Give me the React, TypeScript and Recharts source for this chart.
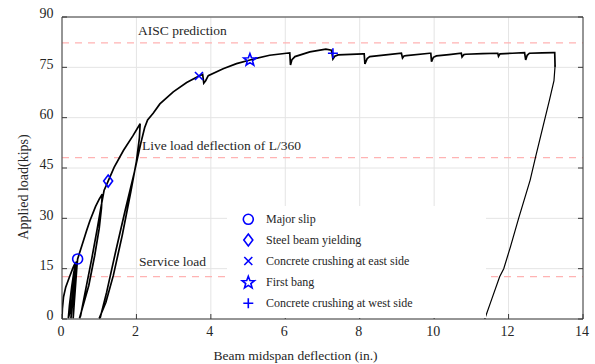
import React from 'react';
import {
  ComposedChart,
  Line,
  Scatter,
  XAxis,
  YAxis,
  CartesianGrid,
  ReferenceLine,
  Legend,
} from 'recharts';

// ---------- data ----------
const xTicks = [0, 2, 4, 6, 8, 10, 12, 14];
const yTicks = [0, 15, 30, 45, 60, 75, 90];

// loading path: service-load cycles, two unload/reload cycles, then envelope to end of test
const loadPath: [number, number][] = [
  [0, 0], [0.01, 3], [0.04, 6.5], [0.1, 9.5], [0.2, 12.5], [0.3, 15.4], [0.36, 16.8],
  [0.33, 12], [0.27, 6], [0.21, 2], [0.17, 0.2],
  [0.2, 4], [0.26, 9.5], [0.32, 14], [0.38, 17],
  [0.34, 11], [0.29, 5], [0.24, 0.2],
  [0.27, 4.5], [0.32, 10.5], [0.36, 14.5], [0.39, 17.1],
  [0.37, 11], [0.33, 5], [0.3, 0.2],
  [0.33, 5], [0.37, 11], [0.4, 15.5], [0.42, 17.9],
  [0.55, 22.4], [0.66, 26.3], [0.75, 29.3], [0.9, 33.5], [1.0, 35.7], [1.08, 37.2],
  [1.06, 33], [1.0, 27], [0.88, 19], [0.72, 10], [0.47, 0.2],
  [0.5, 1], [0.64, 9], [0.8, 18], [0.94, 26.5], [1.05, 33.5], [1.13, 38.3], [1.24, 41.1],
  [1.4, 45.2], [1.65, 50.2], [1.9, 54.5], [2.1, 58.2],
  [2.08, 54], [2.0, 47], [1.85, 38], [1.62, 25], [1.38, 13], [1.18, 5], [1.0, 0.2],
  [1.03, 0.5], [1.2, 8], [1.45, 20.5], [1.7, 32.5], [1.95, 44], [2.12, 52.5], [2.22, 57], [2.3, 59.3],
  [2.45, 61.3], [2.63, 64.1], [2.99, 67.7], [3.35, 70.5], [3.68, 72.4], [3.78, 72.9],
  [3.81, 70.3], [3.86, 71.0], [3.93, 72.5], [4.33, 74.6], [4.69, 76.1], [5.05, 77.2],
  [5.58, 78.6], [6.03, 79.2], [6.12, 79.3], [6.14, 75.7], [6.18, 77.3], [6.26, 78.2],
  [6.66, 79.6], [7.09, 80.4], [7.24, 80.1], [7.28, 77.5], [7.33, 78.3], [7.42, 78.7],
  [8.09, 79.0], [8.12, 79.0], [8.14, 76.0], [8.2, 77.6], [8.27, 78.2], [8.7, 78.7],
  [9.12, 79.2], [9.15, 77.8], [9.19, 78.4], [9.25, 78.5], [9.88, 79.2], [9.91, 79.2],
  [9.93, 76.7], [9.98, 78.0], [10.06, 78.4], [10.4, 78.8], [10.73, 79.2], [10.75, 78.1],
  [10.8, 78.8], [10.85, 78.9], [11.3, 79.1], [11.71, 79.2], [11.73, 78.3], [11.77, 79.0],
  [12.1, 79.2], [12.43, 79.4], [12.46, 77.2], [12.5, 78.6], [12.56, 79.2], [12.9, 79.3],
  [13.21, 79.4], [13.24, 79.4], [13.25, 75.2],
];

// final unloading branch
const unloadPath: [number, number][] = [
  [13.25, 75.5], [13.22, 71], [13.1, 65.3], [12.88, 55.3], [12.72, 48], [12.58, 41.4],
  [12.27, 30], [12.05, 21.5], [11.87, 15], [11.76, 12.6], [11.55, 6], [11.36, 0],
];

const eventNames = [
  'Major slip',
  'Steel beam yielding',
  'Concrete crushing at east side',
  'First bang',
  'Concrete crushing at west side',
];
const eventKinds = ['circle', 'diamond', 'cross', 'star', 'plus'];
const eventX = [0.42, 1.24, 3.68, 5.05, 7.28];
const eventY = [17.9, 41.1, 72.4, 77.2, 79.2];

const limitLabels = ['AISC prediction', 'Live load deflection of L/360', 'Service load'];
const limitValues = [82.3, 48.1, 12.6];

// ---------- helpers ----------
const toPoints = (arr: [number, number][]) => arr.map(([x, y]) => ({ x, y }));
const loadData = toPoints(loadPath);
const unloadData = toPoints(unloadPath);

const FONT = "'Liberation Serif', 'Times New Roman', serif";
const TEXT = '#262626';
const FRAME = '#3a3a3a';
const BLUE = '#0000ff';

function starPath(cx: number, cy: number, R: number, r: number) {
  let d = '';
  for (let i = 0; i < 10; i++) {
    const rad = i % 2 === 0 ? R : r;
    const a = -Math.PI / 2 + (i * Math.PI) / 5;
    d += (i === 0 ? 'M' : 'L') + (cx + rad * Math.cos(a)).toFixed(2) + ',' + (cy + rad * Math.sin(a)).toFixed(2);
  }
  return d + 'Z';
}

function Marker({ kind, cx, cy }: { kind: string; cx: number; cy: number }) {
  const common = { fill: 'none', stroke: BLUE, strokeWidth: 1.6 };
  switch (kind) {
    case 'circle':
      return <circle cx={cx} cy={cy} r={5} {...common} />;
    case 'diamond':
      return <path d={`M${cx},${cy - 6}L${cx + 4.5},${cy}L${cx},${cy + 6}L${cx - 4.5},${cy}Z`} {...common} />;
    case 'cross':
      return <path d={`M${cx - 4},${cy - 4}L${cx + 4},${cy + 4}M${cx - 4},${cy + 4}L${cx + 4},${cy - 4}`} {...common} />;
    case 'star':
      return <path d={starPath(cx, cy, 6.5, 2.7)} {...common} />;
    default:
      return <path d={`M${cx - 5},${cy}L${cx + 5},${cy}M${cx},${cy - 5}L${cx},${cy + 5}`} {...common} />;
  }
}

const BottomTick = (props: any) => {
  const { x, y, payload } = props;
  return (
    <g>
      <line x1={x} y1={y} x2={x} y2={y - 5} stroke={FRAME} strokeWidth={1} />
      <text x={x - 1} y={y + 17} textAnchor="middle" fontFamily={FONT} fontSize={14} fill={TEXT}>
        {payload.value}
      </text>
    </g>
  );
};

const LeftTick = (props: any) => {
  const { x, y, payload } = props;
  return (
    <g>
      <line x1={x} y1={y} x2={x + 5} y2={y} stroke={FRAME} strokeWidth={1} />
      <text x={x - 8.5} y={y + 1.3} textAnchor="end" fontFamily={FONT} fontSize={14} fill={TEXT}>
        {payload.value}
      </text>
    </g>
  );
};

const TopTick = (props: any) => {
  const { x, y } = props;
  return <line x1={x} y1={y} x2={x} y2={y + 5} stroke={FRAME} strokeWidth={1} />;
};

const RightTick = (props: any) => {
  const { x, y } = props;
  return <line x1={x} y1={y} x2={x - 5} y2={y} stroke={FRAME} strokeWidth={1} />;
};

const limitOffsets = [
  { dx: 76, dy: 7.7 },
  { dx: 80, dy: 7.7 },
  { dx: 77, dy: 10.5 },
];

const makeLimitLabel = (i: number) => (props: any) => {
  const vb = props.viewBox || {};
  return (
    <text
      x={(vb.x ?? 0) + limitOffsets[i].dx}
      y={(vb.y ?? 0) - limitOffsets[i].dy}
      fontFamily={FONT}
      fontSize={13.5}
      fill={TEXT}
    >
      {limitLabels[i]}
    </text>
  );
};

const XLabel = (props: any) => {
  const vb = props.viewBox || {};
  return (
    <text
      x={vb.x + vb.width / 2 - 27}
      y={vb.y + 41}
      textAnchor="middle"
      fontFamily={FONT}
      fontSize={13.5}
      fill={TEXT}
    >
      Beam midspan deflection (in.)
    </text>
  );
};

const YLabel = (props: any) => {
  const vb = props.viewBox || {};
  const cx = vb.x + 27.5;
  const cy = vb.y + vb.height / 2 + 19;
  return (
    <text
      x={cx}
      y={cy}
      transform={`rotate(-90, ${cx}, ${cy})`}
      textAnchor="middle"
      fontFamily={FONT}
      fontSize={14}
      fill={TEXT}
    >
      Applied load(kips)
    </text>
  );
};

const LegendBox = () => {
  const rowY = [13.3, 34, 55, 76.7, 97.3];
  return (
    <svg width={259} height={112} style={{ display: 'block', background: '#ffffff' }}>
      <rect x={0} y={0} width={259} height={112} fill="#ffffff" />
      {eventNames.map((name, i) => (
        <g key={name}>
          <Marker kind={eventKinds[i]} cx={21.3} cy={rowY[i]} />
          <text x={39} y={rowY[i] + 3.6} fontFamily={FONT} fontSize={12} fill={TEXT}>
            {name}
          </text>
        </g>
      ))}
    </svg>
  );
};

export default function App() {
  return (
    <div style={{ position: 'absolute', left: 0, top: 0, width: 595, height: 364, background: '#fff' }}>
      <ComposedChart width={595} height={364} margin={{ top: 0, right: 0, bottom: 0, left: 0 }}>
        <CartesianGrid stroke="#e4e4e4" strokeWidth={1} />
        <XAxis
          dataKey="x"
          type="number"
          domain={[0, 14]}
          ticks={xTicks}
          height={45}
          tickSize={0}
          tickMargin={0}
          interval={0}
          stroke={FRAME}
          tick={BottomTick}
          label={XLabel}
          allowDataOverflow
        />
        <XAxis
          xAxisId="top"
          orientation="top"
          type="number"
          domain={[0, 14]}
          ticks={xTicks}
          height={17}
          tickSize={0}
          tickMargin={0}
          interval={0}
          stroke={FRAME}
          tick={TopTick}
          allowDataOverflow
        />
        <YAxis
          dataKey="y"
          type="number"
          domain={[0, 90]}
          ticks={yTicks}
          width={62}
          tickSize={0}
          tickMargin={0}
          interval={0}
          stroke={FRAME}
          tick={LeftTick}
          label={YLabel}
          allowDataOverflow
        />
        <YAxis
          yAxisId="right"
          orientation="right"
          type="number"
          domain={[0, 90]}
          ticks={yTicks}
          width={12}
          tickSize={0}
          tickMargin={0}
          interval={0}
          stroke={FRAME}
          tick={RightTick}
          allowDataOverflow
        />
        {limitValues.map((v, i) => (
          <ReferenceLine
            key={limitLabels[i]}
            y={v}
            stroke="#ffb3b3"
            strokeWidth={1.3}
            strokeDasharray="7 6"
            label={makeLimitLabel(i)}
          />
        ))}
        <Line
          data={loadData}
          dataKey="y"
          type="linear"
          stroke="#000000"
          strokeWidth={1.7}
          dot={false}
          isAnimationActive={false}
        />
        <Line
          data={unloadData}
          dataKey="y"
          type="linear"
          stroke="#000000"
          strokeWidth={1.2}
          dot={false}
          isAnimationActive={false}
        />
        {eventNames.map((name, i) => (
          <Scatter
            key={name}
            name={name}
            data={[{ x: eventX[i], y: eventY[i] }]}
            dataKey="y"
            isAnimationActive={false}
            shape={(p: any) => <Marker kind={eventKinds[i]} cx={p.cx} cy={p.cy} />}
          />
        ))}
        <Legend
          layout="vertical"
          align="center"
          verticalAlign="middle"
          wrapperStyle={{ position: 'absolute', left: 227, top: 206, width: 259, height: 112 }}
          content={() => <LegendBox />}
        />
      </ComposedChart>
    </div>
  );
}
